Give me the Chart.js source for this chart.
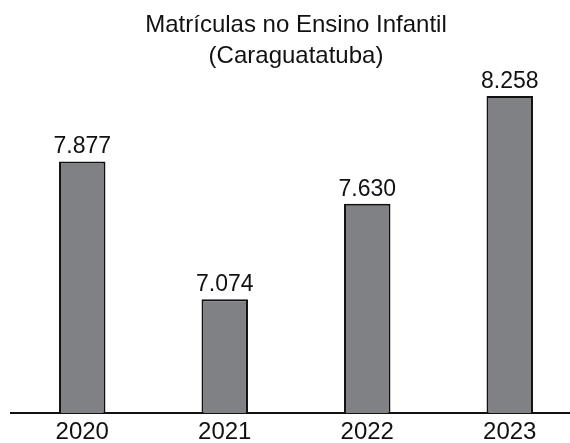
<!DOCTYPE html>
<html>
<head>
<meta charset="utf-8">
<script src="https://cdn.jsdelivr.net/npm/chart.js@4"></script>
<style>
  html, body { margin: 0; padding: 0; background: #fff; }
  #wrap { width: 570px; height: 443px; overflow: hidden; position: relative; }
  #chart { position: absolute; left: 0; top: 0; }
</style>
</head>
<body>
<div id="wrap">
  <canvas id="chart" width="581" height="451"></canvas>
</div>
<script>
// Matrículas no Ensino Infantil - Caraguatatuba
const titleLines = ['Matrículas no Ensino Infantil', '(Caraguatatuba)'];
const years = ['2020', '2021', '2022', '2023'];
const enrollments = [7877, 7074, 7630, 8258];

const FONT = "'Liberation Sans', Arial, Helvetica, sans-serif";

function fmtThousands(v) {
  return String(v).replace(/\B(?=(\d{3})+(?!\d))/g, '.');
}

// draws the value above each bar
const valueLabels = {
  id: 'valueLabels',
  afterDatasetsDraw(chart) {
    const ctx = chart.ctx;
    const meta = chart.getDatasetMeta(0);
    ctx.save();
    ctx.font = '23px ' + FONT;
    ctx.fillStyle = '#111';
    ctx.textAlign = 'center';
    ctx.textBaseline = 'alphabetic';
    meta.data.forEach(function (bar, i) {
      ctx.fillText(fmtThousands(chart.data.datasets[0].data[i]), bar.x, bar.y - 8);
    });
    ctx.restore();
  },
};

const ctx = document.getElementById('chart').getContext('2d');
new Chart(ctx, {
  type: 'bar',
  data: {
    labels: years,
    datasets: [
      {
        data: enrollments,
        backgroundColor: '#808184',
        borderColor: '#111',
        borderWidth: 2,
        borderSkipped: 'bottom',
        categoryPercentage: 1,
        barPercentage: 0.326,
      },
    ],
  },
  options: {
    responsive: false,
    animation: false,
    devicePixelRatio: 1,
    layout: { padding: { left: 11, right: 0, top: 0, bottom: 0 } },
    plugins: {
      legend: { display: false },
      tooltip: { enabled: false },
      title: {
        display: true,
        text: titleLines,
        color: '#111',
        font: { family: FONT, size: 24, weight: 'normal', lineHeight: 1.3 },
        padding: { top: 10, bottom: 10 },
      },
    },
    scales: {
      x: {
        grid: { display: true, drawOnChartArea: false, drawTicks: false },
        border: { display: true, color: '#111', width: 2 },
        ticks: {
          color: '#111',
          padding: 7,
          font: { family: FONT, size: 24, lineHeight: 1 },
        },
      },
      y: {
        display: false,
        min: 6410,
        max: 8338,
      },
    },
  },
  plugins: [valueLabels],
});
</script>
</body>
</html>
